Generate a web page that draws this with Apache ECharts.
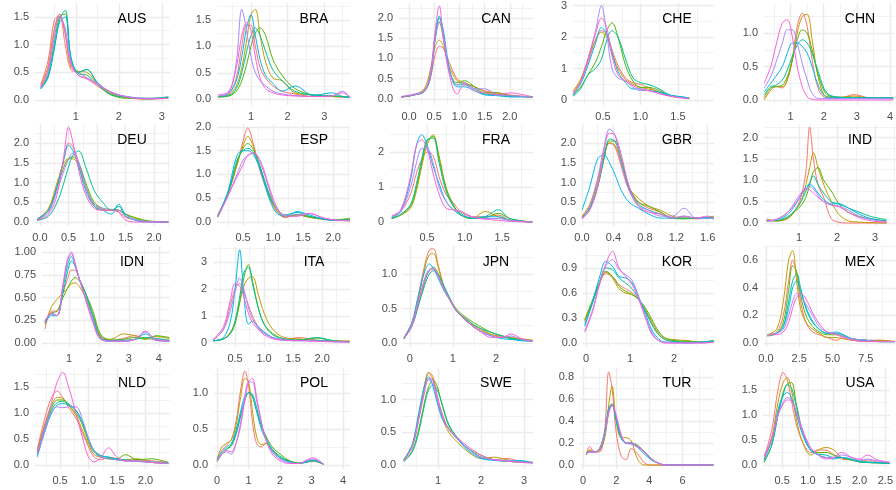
<!DOCTYPE html>
<html>
<head>
<meta charset="utf-8">
<script src="https://cdn.jsdelivr.net/npm/echarts@6.0.0/dist/echarts.min.js"></script>
<style>
  html, body { margin: 0; padding: 0; background: #fff; }
  #main { width: 896px; height: 490px; }
</style>
</head>
<body>
<div id="main"></div>
<script>
// one density curve per colour (year group), ggplot hue palette
const colors = ['#F8766D', '#C49A00', '#53B400', '#00C094', '#00B6EB', '#A58AFF', '#FB61D7'];

const countries = ['AUS', 'BRA', 'CAN', 'CHE', 'CHN', 'DEU', 'ESP', 'FRA', 'GBR', 'IND',
  'IDN', 'ITA', 'JPN', 'KOR', 'MEX', 'NLD', 'POL', 'SWE', 'TUR', 'USA'];

// curves: shared x grid per panel, one y row per colour
const ausX = [0.18, 0.35, 0.5, 0.62, 0.75, 0.88, 1.05, 1.25, 1.5, 1.8, 2.2, 2.7, 3.15];
const ausY = [
  [0.28, 0.7, 1.45, 1.5, 1.0, 0.55, 0.5, 0.4, 0.25, 0.12, 0.04, 0.02, 0.03],
  [0.25, 0.6, 1.3, 1.55, 1.2, 0.6, 0.52, 0.5, 0.3, 0.12, 0.04, 0.02, 0.04],
  [0.22, 0.45, 1.05, 1.5, 1.55, 0.75, 0.5, 0.55, 0.3, 0.1, 0.03, 0.03, 0.05],
  [0.2, 0.4, 0.95, 1.45, 1.62, 0.8, 0.48, 0.45, 0.28, 0.1, 0.05, 0.02, 0.06],
  [0.2, 0.42, 0.95, 1.4, 1.5, 0.75, 0.5, 0.55, 0.32, 0.14, 0.06, 0.03, 0.04],
  [0.22, 0.5, 1.15, 1.5, 1.3, 0.7, 0.45, 0.4, 0.3, 0.15, 0.06, 0.03, 0.03],
  [0.24, 0.55, 1.25, 1.55, 1.2, 0.65, 0.45, 0.38, 0.28, 0.15, 0.05, 0.02, 0.03]
];
const braX = [0.1, 0.4, 0.6, 0.75, 0.88, 1.0, 1.12, 1.25, 1.4, 1.6, 1.85, 2.2, 2.7, 3.2, 3.5, 3.7];
const braY = [
  [0.05, 0.1, 0.4, 1.0, 1.4, 1.4, 1.0, 0.6, 0.4, 0.25, 0.15, 0.1, 0.05, 0.05, 0.04, 0.03],
  [0.04, 0.08, 0.25, 0.6, 1.1, 1.6, 1.7, 1.2, 0.7, 0.4, 0.35, 0.12, 0.08, 0.05, 0.04, 0.03],
  [0.04, 0.06, 0.15, 0.35, 0.65, 1.0, 1.25, 1.35, 1.2, 0.75, 0.45, 0.2, 0.08, 0.06, 0.05, 0.04],
  [0.05, 0.07, 0.2, 0.5, 0.9, 1.2, 1.35, 1.2, 0.9, 0.55, 0.35, 0.15, 0.08, 0.07, 0.05, 0.04],
  [0.05, 0.12, 0.35, 0.8, 1.35, 1.6, 1.2, 0.75, 0.45, 0.3, 0.15, 0.25, 0.07, 0.12, 0.05, 0.03],
  [0.06, 0.12, 0.7, 1.7, 1.3, 0.8, 0.5, 0.35, 0.25, 0.15, 0.1, 0.07, 0.05, 0.06, 0.15, 0.03],
  [0.08, 0.15, 0.6, 1.2, 1.45, 1.3, 0.8, 0.4, 0.2, 0.12, 0.08, 0.06, 0.05, 0.06, 0.12, 0.03]
];
const canX = [-0.15, 0.1, 0.3, 0.42, 0.52, 0.6, 0.68, 0.8, 0.95, 1.1, 1.3, 1.5, 1.75, 2.0, 2.45];
const canY = [
  [0.04, 0.1, 0.2, 0.5, 1.1, 1.3, 1.25, 0.9, 0.5, 0.4, 0.3, 0.2, 0.15, 0.1, 0.05],
  [0.05, 0.1, 0.25, 0.7, 1.3, 1.45, 1.3, 0.8, 0.45, 0.38, 0.3, 0.18, 0.12, 0.08, 0.04],
  [0.05, 0.1, 0.2, 0.6, 1.5, 1.9, 1.5, 0.7, 0.4, 0.45, 0.3, 0.15, 0.15, 0.08, 0.05],
  [0.05, 0.1, 0.18, 0.55, 1.6, 2.0, 1.6, 0.7, 0.35, 0.35, 0.25, 0.12, 0.1, 0.06, 0.05],
  [0.05, 0.1, 0.18, 0.5, 1.5, 2.05, 1.7, 0.75, 0.3, 0.3, 0.2, 0.1, 0.08, 0.05, 0.06],
  [0.06, 0.12, 0.2, 0.55, 1.5, 1.9, 1.6, 0.7, 0.35, 0.4, 0.25, 0.25, 0.1, 0.08, 0.05],
  [0.06, 0.1, 0.2, 0.6, 1.7, 2.3, 1.5, 0.6, 0.12, 0.35, 0.2, 0.15, 0.1, 0.15, 0.05]
];
const cheX = [0.1, 0.2, 0.3, 0.4, 0.48, 0.55, 0.62, 0.7, 0.8, 0.9, 1.0, 1.1, 1.25, 1.4, 1.55, 1.65];
const cheY = [
  [0.25, 0.6, 1.2, 1.9, 2.2, 2.1, 1.6, 1.1, 0.7, 0.55, 0.5, 0.4, 0.25, 0.15, 0.08, 0.05],
  [0.28, 0.65, 1.3, 1.9, 2.15, 2.0, 1.5, 1.0, 0.65, 0.5, 0.4, 0.35, 0.25, 0.12, 0.08, 0.05],
  [0.15, 0.4, 0.8, 1.2, 1.7, 2.2, 2.45, 2.0, 1.1, 0.6, 0.4, 0.4, 0.3, 0.12, 0.08, 0.05],
  [0.12, 0.35, 0.8, 1.0, 1.3, 1.9, 2.2, 2.0, 1.3, 0.7, 0.55, 0.5, 0.35, 0.15, 0.1, 0.06],
  [0.15, 0.5, 1.1, 1.8, 2.3, 2.1, 1.5, 0.9, 0.55, 0.35, 0.35, 0.3, 0.25, 0.15, 0.1, 0.06],
  [0.2, 0.55, 1.3, 2.2, 3.0, 2.1, 1.0, 0.7, 0.6, 0.4, 0.3, 0.3, 0.2, 0.12, 0.08, 0.04],
  [0.2, 0.55, 1.3, 2.1, 2.6, 2.3, 1.4, 0.8, 0.6, 0.45, 0.35, 0.3, 0.2, 0.12, 0.06, 0.04]
];
const chnX = [0.2, 0.4, 0.55, 0.75, 0.9, 1.05, 1.2, 1.35, 1.5, 1.65, 1.85, 2.1, 2.5, 2.9, 3.4, 4.1];
const chnY = [
  [0.02, 0.15, 0.2, 0.18, 0.3, 0.6, 1.1, 1.3, 1.1, 0.6, 0.15, 0.03, 0.03, 0.08, 0.03, 0.02],
  [0.0, 0.15, 0.2, 0.2, 0.3, 0.6, 1.0, 1.25, 1.28, 0.9, 0.3, 0.05, 0.04, 0.06, 0.03, 0.03],
  [0.05, 0.18, 0.2, 0.22, 0.35, 0.6, 0.9, 1.05, 1.0, 0.75, 0.35, 0.08, 0.04, 0.04, 0.03, 0.03],
  [0.08, 0.2, 0.22, 0.3, 0.45, 0.65, 0.82, 0.9, 0.85, 0.7, 0.4, 0.1, 0.04, 0.03, 0.03, 0.03],
  [0.12, 0.25, 0.35, 0.5, 0.7, 0.85, 0.85, 0.8, 0.7, 0.5, 0.2, 0.04, 0.03, 0.03, 0.03, 0.03],
  [0.18, 0.35, 0.55, 0.85, 1.05, 1.05, 0.85, 0.55, 0.3, 0.1, 0.02, 0.02, 0.02, 0.02, 0.02, 0.02],
  [0.25, 0.5, 0.8, 1.15, 1.2, 0.95, 0.5, 0.2, 0.05, 0.01, 0.0, 0.0, 0.0, 0.0, 0.0, 0.0]
];
const deuX = [-0.05, 0.15, 0.3, 0.42, 0.5, 0.58, 0.68, 0.8, 0.95, 1.1, 1.25, 1.38, 1.5, 1.7, 1.9, 2.25];
const deuY = [
  [0.08, 0.3, 0.9, 1.6, 2.0, 1.9, 1.5, 0.9, 0.4, 0.3, 0.3, 0.25, 0.12, 0.05, 0.01, 0.0],
  [0.06, 0.35, 1.0, 1.5, 1.6, 1.6, 1.4, 0.9, 0.45, 0.32, 0.3, 0.3, 0.2, 0.08, 0.02, 0.0],
  [0.05, 0.3, 0.9, 1.4, 1.6, 1.65, 1.5, 1.0, 0.5, 0.35, 0.32, 0.3, 0.2, 0.1, 0.03, 0.0],
  [0.04, 0.15, 0.5, 1.0, 1.4, 1.7, 1.8, 1.4, 0.8, 0.5, 0.3, 0.4, 0.15, 0.05, 0.01, 0.0],
  [0.08, 0.3, 0.9, 1.6, 1.95, 1.8, 1.4, 0.8, 0.4, 0.3, 0.2, 0.45, 0.2, 0.03, 0.0, 0.0],
  [0.05, 0.25, 0.8, 1.3, 1.6, 1.75, 1.5, 0.9, 0.45, 0.35, 0.3, 0.3, 0.15, 0.05, 0.01, 0.0],
  [0.04, 0.2, 0.7, 1.7, 2.4, 2.0, 1.3, 0.7, 0.35, 0.3, 0.3, 0.25, 0.05, 0.0, 0.0, 0.0]
];
const espX = [0.08, 0.25, 0.4, 0.5, 0.58, 0.68, 0.8, 0.92, 1.05, 1.2, 1.4, 1.6, 1.85, 2.05, 2.28];
const espY = [
  [0.15, 0.6, 1.2, 1.7, 1.98, 1.6, 1.0, 0.6, 0.25, 0.1, 0.15, 0.1, 0.05, 0.03, 0.04],
  [0.14, 0.6, 1.2, 1.6, 1.8, 1.55, 1.05, 0.6, 0.25, 0.1, 0.15, 0.12, 0.06, 0.04, 0.05],
  [0.12, 0.6, 1.25, 1.55, 1.65, 1.5, 1.1, 0.6, 0.3, 0.12, 0.15, 0.1, 0.06, 0.05, 0.08],
  [0.12, 0.6, 1.3, 1.5, 1.55, 1.45, 1.1, 0.65, 0.3, 0.15, 0.2, 0.12, 0.06, 0.04, 0.05],
  [0.12, 0.65, 1.4, 1.5, 1.5, 1.4, 1.05, 0.55, 0.2, 0.12, 0.22, 0.15, 0.06, 0.03, 0.03],
  [0.1, 0.55, 1.0, 1.3, 1.4, 1.45, 1.2, 0.75, 0.3, 0.15, 0.15, 0.18, 0.08, 0.04, 0.03],
  [0.1, 0.55, 0.95, 1.2, 1.4, 1.45, 1.25, 0.8, 0.35, 0.12, 0.12, 0.18, 0.08, 0.04, 0.02]
];
const fraX = [0.03, 0.15, 0.28, 0.36, 0.43, 0.5, 0.58, 0.66, 0.75, 0.85, 0.95, 1.1, 1.27, 1.45, 1.6, 1.9];
const fraY = [
  [0.15, 0.3, 0.8, 1.4, 1.8, 2.0, 1.9, 1.3, 0.8, 0.55, 0.3, 0.15, 0.15, 0.2, 0.05, 0.0],
  [0.1, 0.2, 0.4, 0.9, 1.6, 2.2, 2.5, 1.9, 1.0, 0.45, 0.2, 0.1, 0.3, 0.15, 0.05, 0.0],
  [0.1, 0.2, 0.45, 1.0, 1.7, 2.3, 2.45, 1.8, 1.0, 0.5, 0.2, 0.1, 0.12, 0.25, 0.1, 0.0],
  [0.1, 0.22, 0.5, 1.1, 1.8, 2.35, 2.4, 1.7, 0.9, 0.45, 0.25, 0.1, 0.15, 0.35, 0.1, 0.0],
  [0.12, 0.3, 1.2, 2.2, 2.5, 2.2, 1.6, 1.1, 0.6, 0.35, 0.2, 0.12, 0.15, 0.15, 0.05, 0.0],
  [0.15, 0.3, 1.0, 1.7, 2.1, 2.1, 1.7, 1.0, 0.6, 0.35, 0.3, 0.15, 0.1, 0.1, 0.05, 0.0],
  [0.18, 0.35, 1.3, 2.2, 2.35, 2.1, 1.4, 0.8, 0.4, 0.35, 0.3, 0.15, 0.08, 0.05, 0.02, 0.0]
];
const gbrX = [0.0, 0.1, 0.2, 0.28, 0.35, 0.42, 0.5, 0.6, 0.72, 0.85, 1.0, 1.15, 1.3, 1.45, 1.6, 1.68];
const gbrY = [
  [0.12, 0.4, 1.0, 1.7, 2.0, 1.9, 1.4, 0.8, 0.5, 0.35, 0.25, 0.1, 0.1, 0.08, 0.1, 0.12],
  [0.15, 0.45, 1.1, 1.7, 2.0, 1.95, 1.5, 0.85, 0.6, 0.4, 0.3, 0.15, 0.1, 0.1, 0.12, 0.12],
  [0.12, 0.35, 0.9, 1.6, 2.05, 2.05, 1.6, 0.9, 0.5, 0.4, 0.25, 0.1, 0.08, 0.1, 0.12, 0.15],
  [0.1, 0.35, 0.9, 1.6, 2.1, 2.05, 1.55, 0.85, 0.45, 0.3, 0.2, 0.1, 0.1, 0.1, 0.12, 0.1],
  [0.3, 0.9, 1.6, 1.7, 1.5, 1.2, 0.8, 0.5, 0.35, 0.2, 0.1, 0.1, 0.15, 0.1, 0.1, 0.08],
  [0.1, 0.4, 1.1, 1.9, 2.35, 2.2, 1.5, 0.8, 0.4, 0.3, 0.15, 0.15, 0.35, 0.1, 0.1, 0.1],
  [0.08, 0.3, 0.9, 1.8, 2.25, 2.2, 1.7, 0.9, 0.4, 0.25, 0.2, 0.1, 0.15, 0.1, 0.15, 0.1]
];
const indX = [0.15, 0.4, 0.7, 0.9, 1.05, 1.18, 1.28, 1.38, 1.5, 1.65, 1.85, 2.05, 2.3, 2.6, 2.9, 3.3];
const indY = [
  [0.1, 0.05, 0.1, 0.3, 0.6, 1.2, 2.25, 1.5, 0.9, 0.6, 0.1, 0.02, 0.0, 0.0, 0.0, 0.0],
  [0.08, 0.05, 0.12, 0.3, 0.5, 0.9, 1.3, 1.65, 1.3, 0.9, 0.5, 0.2, 0.05, 0.02, 0.01, 0.0],
  [0.06, 0.05, 0.12, 0.28, 0.4, 0.6, 0.9, 1.2, 1.3, 1.0, 0.75, 0.45, 0.25, 0.15, 0.1, 0.05],
  [0.05, 0.06, 0.15, 0.3, 0.5, 0.75, 0.95, 1.1, 0.9, 0.7, 0.5, 0.45, 0.35, 0.25, 0.15, 0.08],
  [0.05, 0.08, 0.2, 0.42, 0.65, 0.85, 0.9, 0.85, 0.7, 0.55, 0.45, 0.45, 0.35, 0.2, 0.1, 0.04],
  [0.05, 0.08, 0.25, 0.45, 0.65, 0.8, 0.85, 0.8, 0.65, 0.5, 0.42, 0.4, 0.3, 0.15, 0.08, 0.03],
  [0.05, 0.08, 0.25, 0.5, 0.7, 0.8, 0.78, 0.7, 0.6, 0.5, 0.42, 0.38, 0.25, 0.12, 0.05, 0.02]
];
const idnX = [0.2, 0.42, 0.6, 0.8, 0.95, 1.08, 1.2, 1.35, 1.55, 1.8, 2.05, 2.4, 2.8, 3.2, 3.55, 3.9, 4.35];
const idnY = [
  [0.15, 0.35, 0.35, 0.55, 0.7, 0.8, 0.8, 0.7, 0.55, 0.3, 0.07, 0.03, 0.05, 0.08, 0.05, 0.04, 0.03],
  [0.2, 0.4, 0.48, 0.55, 0.6, 0.65, 0.66, 0.62, 0.5, 0.3, 0.08, 0.04, 0.1, 0.08, 0.05, 0.07, 0.05],
  [0.25, 0.33, 0.35, 0.5, 0.6, 0.68, 0.72, 0.68, 0.55, 0.35, 0.1, 0.03, 0.04, 0.06, 0.04, 0.08, 0.06],
  [0.22, 0.32, 0.3, 0.55, 0.78, 0.9, 0.85, 0.7, 0.55, 0.3, 0.06, 0.03, 0.03, 0.04, 0.06, 0.05, 0.03],
  [0.22, 0.3, 0.3, 0.6, 0.85, 0.95, 0.85, 0.7, 0.5, 0.25, 0.05, 0.02, 0.02, 0.04, 0.1, 0.03, 0.02],
  [0.23, 0.32, 0.3, 0.62, 0.9, 0.98, 0.88, 0.7, 0.5, 0.25, 0.05, 0.02, 0.02, 0.04, 0.12, 0.04, 0.02],
  [0.24, 0.33, 0.3, 0.65, 0.92, 1.0, 0.88, 0.7, 0.48, 0.22, 0.04, 0.02, 0.02, 0.04, 0.13, 0.03, 0.02]
];
const itaX = [0.12, 0.3, 0.42, 0.5, 0.58, 0.65, 0.73, 0.8, 0.9, 1.0, 1.15, 1.35, 1.6, 1.9, 2.2, 2.47];
const itaY = [
  [0.1, 0.5, 1.4, 2.0, 2.2, 1.9, 1.4, 1.0, 0.6, 0.4, 0.2, 0.12, 0.2, 0.1, 0.05, 0.05],
  [0.08, 0.15, 0.4, 0.8, 1.5, 2.1, 2.4, 2.45, 1.8, 1.1, 0.5, 0.2, 0.15, 0.1, 0.08, 0.08],
  [0.08, 0.15, 0.35, 0.7, 1.5, 2.4, 2.9, 2.3, 1.3, 0.7, 0.35, 0.15, 0.12, 0.18, 0.08, 0.05],
  [0.08, 0.15, 0.35, 0.8, 1.7, 2.6, 2.8, 2.2, 1.3, 0.7, 0.3, 0.15, 0.1, 0.2, 0.08, 0.05],
  [0.08, 0.2, 0.8, 2.0, 3.45, 1.8, 0.7, 0.8, 0.6, 0.4, 0.2, 0.1, 0.08, 0.1, 0.05, 0.04],
  [0.1, 0.5, 1.2, 1.9, 2.4, 2.0, 1.3, 0.9, 0.55, 0.35, 0.2, 0.12, 0.1, 0.08, 0.05, 0.04],
  [0.12, 0.6, 1.6, 2.2, 2.1, 1.7, 1.1, 0.75, 0.5, 0.3, 0.15, 0.1, 0.08, 0.06, 0.04, 0.03]
];
const jpnX = [-0.14, 0.05, 0.2, 0.35, 0.45, 0.55, 0.65, 0.8, 0.95, 1.1, 1.35, 1.6, 1.9, 2.15, 2.35, 2.6, 2.85];
const jpnY = [
  [0.08, 0.3, 0.7, 1.15, 1.35, 1.37, 1.15, 0.8, 0.6, 0.45, 0.33, 0.2, 0.12, 0.1, 0.08, 0.05, 0.03],
  [0.07, 0.28, 0.65, 1.1, 1.28, 1.3, 1.12, 0.8, 0.6, 0.45, 0.3, 0.22, 0.12, 0.08, 0.07, 0.06, 0.04],
  [0.06, 0.25, 0.55, 0.9, 1.05, 1.1, 1.02, 0.8, 0.62, 0.48, 0.35, 0.25, 0.15, 0.1, 0.07, 0.05, 0.03],
  [0.06, 0.25, 0.55, 0.85, 1.0, 1.05, 1.0, 0.82, 0.62, 0.46, 0.32, 0.22, 0.15, 0.1, 0.06, 0.04, 0.03],
  [0.07, 0.3, 0.7, 1.05, 1.15, 1.08, 0.95, 0.75, 0.6, 0.45, 0.3, 0.18, 0.1, 0.06, 0.05, 0.03, 0.02],
  [0.06, 0.27, 0.62, 0.95, 1.07, 1.08, 0.98, 0.78, 0.6, 0.45, 0.3, 0.18, 0.1, 0.08, 0.1, 0.05, 0.03],
  [0.06, 0.25, 0.6, 0.92, 1.05, 1.07, 0.98, 0.78, 0.6, 0.45, 0.3, 0.18, 0.08, 0.08, 0.13, 0.06, 0.02]
];
const korX = [-0.03, 0.15, 0.3, 0.45, 0.6, 0.75, 0.9, 1.05, 1.2, 1.35, 1.5, 1.65, 1.8, 2.0, 2.3, 2.6, 2.9];
const korY = [
  [0.25, 0.5, 0.72, 0.83, 0.8, 0.7, 0.65, 0.6, 0.52, 0.38, 0.22, 0.1, 0.04, 0.02, 0.01, 0.01, 0.02],
  [0.27, 0.5, 0.7, 0.85, 0.78, 0.65, 0.6, 0.58, 0.52, 0.4, 0.25, 0.12, 0.06, 0.04, 0.03, 0.01, 0.02],
  [0.28, 0.52, 0.72, 0.86, 0.8, 0.68, 0.62, 0.58, 0.52, 0.42, 0.28, 0.14, 0.06, 0.03, 0.02, 0.01, 0.03],
  [0.22, 0.48, 0.72, 0.9, 0.88, 0.78, 0.72, 0.65, 0.52, 0.38, 0.22, 0.1, 0.04, 0.02, 0.01, 0.01, 0.03],
  [0.2, 0.5, 0.78, 0.98, 0.92, 0.8, 0.78, 0.72, 0.55, 0.35, 0.15, 0.05, 0.01, 0.01, 0.0, 0.01, 0.02],
  [0.15, 0.4, 0.7, 0.92, 1.0, 0.88, 0.82, 0.75, 0.55, 0.32, 0.12, 0.03, 0.01, 0.0, 0.0, 0.0, 0.01],
  [0.13, 0.38, 0.7, 0.95, 1.1, 0.9, 0.8, 0.7, 0.52, 0.3, 0.1, 0.03, 0.0, 0.0, 0.0, 0.0, 0.01]
];
const mexX = [0.1, 0.8, 1.3, 1.7, 2.0, 2.3, 2.6, 3.0, 3.5, 4.0, 4.6, 5.3, 5.8, 6.5, 7.5, 8.5, 9.7];
const mexY = [
  [0.06, 0.08, 0.2, 0.45, 0.6, 0.5, 0.3, 0.15, 0.08, 0.06, 0.04, 0.02, 0.04, 0.02, 0.02, 0.02, 0.01],
  [0.06, 0.1, 0.3, 0.6, 0.67, 0.45, 0.25, 0.15, 0.1, 0.07, 0.04, 0.04, 0.03, 0.02, 0.01, 0.02, 0.01],
  [0.05, 0.07, 0.15, 0.38, 0.56, 0.52, 0.35, 0.2, 0.12, 0.08, 0.06, 0.06, 0.05, 0.03, 0.02, 0.01, 0.01],
  [0.06, 0.07, 0.12, 0.3, 0.45, 0.5, 0.4, 0.25, 0.15, 0.1, 0.07, 0.07, 0.06, 0.03, 0.02, 0.01, 0.01],
  [0.06, 0.07, 0.12, 0.25, 0.4, 0.45, 0.38, 0.26, 0.16, 0.1, 0.07, 0.08, 0.06, 0.03, 0.02, 0.01, 0.01],
  [0.06, 0.07, 0.1, 0.2, 0.3, 0.36, 0.34, 0.28, 0.2, 0.12, 0.08, 0.07, 0.05, 0.03, 0.02, 0.01, 0.01],
  [0.06, 0.06, 0.08, 0.15, 0.25, 0.33, 0.36, 0.32, 0.22, 0.14, 0.08, 0.06, 0.04, 0.02, 0.01, 0.01, 0.01]
];
const nldX = [0.1, 0.22, 0.35, 0.45, 0.55, 0.65, 0.78, 0.9, 1.0, 1.1, 1.22, 1.35, 1.5, 1.65, 1.85, 2.1, 2.4];
const nldY = [
  [0.3, 0.85, 1.3, 1.42, 1.3, 1.1, 0.9, 0.6, 0.35, 0.15, 0.1, 0.15, 0.12, 0.08, 0.1, 0.08, 0.05],
  [0.28, 0.75, 1.15, 1.3, 1.28, 1.15, 0.95, 0.65, 0.4, 0.2, 0.15, 0.12, 0.1, 0.1, 0.12, 0.05, 0.03],
  [0.25, 0.7, 1.1, 1.25, 1.25, 1.15, 1.0, 0.75, 0.45, 0.25, 0.15, 0.12, 0.12, 0.2, 0.1, 0.12, 0.05],
  [0.2, 0.65, 1.05, 1.2, 1.22, 1.18, 1.05, 0.8, 0.5, 0.28, 0.18, 0.15, 0.12, 0.1, 0.08, 0.06, 0.04],
  [0.15, 0.6, 1.0, 1.15, 1.18, 1.15, 1.05, 0.8, 0.5, 0.25, 0.18, 0.15, 0.1, 0.08, 0.07, 0.05, 0.03],
  [0.2, 0.6, 1.0, 1.12, 1.1, 1.12, 1.12, 0.85, 0.5, 0.25, 0.15, 0.12, 0.1, 0.08, 0.07, 0.05, 0.03],
  [0.25, 0.7, 1.2, 1.6, 1.78, 1.5, 1.0, 0.5, 0.15, 0.06, 0.15, 0.33, 0.15, 0.08, 0.08, 0.05, 0.03]
];
const polX = [0.0, 0.15, 0.3, 0.45, 0.6, 0.75, 0.88, 1.0, 1.12, 1.25, 1.4, 1.55, 1.75, 2.0, 2.3, 2.6, 2.85, 3.05, 3.38];
const polY = [
  [0.1, 0.2, 0.28, 0.35, 0.6, 1.05, 1.3, 1.1, 0.6, 0.3, 0.25, 0.3, 0.2, 0.1, 0.05, 0.02, 0.05, 0.06, 0.01],
  [0.08, 0.25, 0.3, 0.35, 0.55, 0.95, 1.2, 1.15, 0.75, 0.4, 0.28, 0.3, 0.2, 0.1, 0.05, 0.02, 0.04, 0.05, 0.01],
  [0.05, 0.15, 0.22, 0.28, 0.45, 0.7, 0.9, 1.0, 0.95, 0.75, 0.55, 0.4, 0.25, 0.15, 0.06, 0.03, 0.04, 0.06, 0.01],
  [0.05, 0.15, 0.22, 0.26, 0.42, 0.68, 0.9, 1.0, 0.98, 0.8, 0.55, 0.38, 0.22, 0.12, 0.05, 0.02, 0.05, 0.07, 0.01],
  [0.08, 0.18, 0.25, 0.3, 0.48, 0.75, 0.95, 1.0, 0.95, 0.75, 0.5, 0.35, 0.2, 0.1, 0.04, 0.02, 0.04, 0.06, 0.01],
  [0.06, 0.15, 0.18, 0.15, 0.3, 0.6, 0.95, 1.15, 1.15, 0.9, 0.6, 0.35, 0.18, 0.08, 0.03, 0.02, 0.06, 0.08, 0.01],
  [0.05, 0.15, 0.2, 0.18, 0.3, 0.55, 0.9, 1.15, 1.2, 0.95, 0.6, 0.35, 0.15, 0.06, 0.02, 0.02, 0.07, 0.1, 0.01]
];
const sweX = [0.2, 0.4, 0.55, 0.68, 0.78, 0.88, 0.98, 1.1, 1.25, 1.45, 1.7, 2.0, 2.3, 2.6, 2.9, 3.2];
const sweY = [
  [0.08, 0.3, 0.75, 1.2, 1.4, 1.3, 1.0, 0.75, 0.55, 0.4, 0.25, 0.12, 0.08, 0.1, 0.06, 0.04],
  [0.08, 0.3, 0.75, 1.2, 1.42, 1.35, 1.05, 0.72, 0.5, 0.35, 0.2, 0.1, 0.12, 0.08, 0.05, 0.04],
  [0.06, 0.22, 0.55, 0.95, 1.2, 1.3, 1.2, 0.9, 0.6, 0.4, 0.25, 0.15, 0.08, 0.06, 0.04, 0.04],
  [0.05, 0.2, 0.5, 0.9, 1.15, 1.22, 1.15, 0.92, 0.62, 0.42, 0.25, 0.12, 0.08, 0.06, 0.05, 0.04],
  [0.08, 0.32, 0.8, 1.2, 1.35, 1.2, 0.95, 0.7, 0.55, 0.4, 0.22, 0.1, 0.07, 0.06, 0.07, 0.03],
  [0.07, 0.28, 0.7, 1.12, 1.3, 1.25, 1.0, 0.75, 0.55, 0.4, 0.25, 0.12, 0.08, 0.07, 0.05, 0.03],
  [0.07, 0.28, 0.7, 1.1, 1.32, 1.3, 1.05, 0.78, 0.55, 0.42, 0.28, 0.15, 0.08, 0.06, 0.04, 0.03]
];
const turX = [0.2, 0.4, 0.7, 1.0, 1.3, 1.55, 1.75, 2.0, 2.3, 2.6, 2.9, 3.3, 3.7, 4.1, 4.5, 5.0, 6.0, 7.85];
const turY = [
  [0.1, 0.17, 0.12, 0.12, 0.3, 0.85, 0.7, 0.3, 0.08, 0.05, 0.15, 0.1, 0.02, 0.0, 0.0, 0.0, 0.0, 0.0],
  [0.1, 0.14, 0.12, 0.13, 0.25, 0.55, 0.72, 0.4, 0.25, 0.25, 0.22, 0.05, 0.0, 0.0, 0.0, 0.0, 0.0, 0.0],
  [0.1, 0.13, 0.12, 0.14, 0.25, 0.48, 0.55, 0.42, 0.25, 0.2, 0.2, 0.18, 0.12, 0.05, 0.02, 0.0, 0.0, 0.0],
  [0.1, 0.12, 0.12, 0.15, 0.3, 0.52, 0.56, 0.4, 0.25, 0.2, 0.2, 0.17, 0.12, 0.06, 0.02, 0.0, 0.0, 0.0],
  [0.1, 0.12, 0.12, 0.15, 0.3, 0.5, 0.55, 0.42, 0.25, 0.2, 0.2, 0.16, 0.1, 0.05, 0.02, 0.0, 0.0, 0.0],
  [0.1, 0.12, 0.12, 0.14, 0.28, 0.48, 0.54, 0.45, 0.27, 0.2, 0.19, 0.16, 0.12, 0.06, 0.02, 0.0, 0.0, 0.0],
  [0.1, 0.12, 0.12, 0.14, 0.28, 0.48, 0.55, 0.45, 0.28, 0.2, 0.2, 0.17, 0.12, 0.06, 0.02, 0.0, 0.0, 0.0]
];
const usaX = [0.15, 0.3, 0.42, 0.52, 0.6, 0.68, 0.78, 0.9, 1.05, 1.2, 1.35, 1.5, 1.65, 1.85, 2.0, 2.15, 2.35, 2.58];
const usaY = [
  [0.15, 0.7, 1.5, 1.85, 1.7, 1.3, 0.8, 0.45, 0.25, 0.3, 0.3, 0.2, 0.12, 0.1, 0.08, 0.1, 0.06, 0.05],
  [0.1, 0.55, 1.25, 1.65, 1.75, 1.5, 0.9, 0.45, 0.2, 0.3, 0.35, 0.3, 0.15, 0.1, 0.07, 0.06, 0.05, 0.04],
  [0.05, 0.4, 1.0, 1.45, 1.62, 1.65, 1.2, 0.65, 0.3, 0.25, 0.25, 0.2, 0.15, 0.1, 0.06, 0.05, 0.04, 0.03],
  [0.06, 0.4, 1.0, 1.4, 1.6, 1.55, 1.15, 0.65, 0.3, 0.22, 0.2, 0.15, 0.15, 0.1, 0.06, 0.05, 0.04, 0.03],
  [0.1, 0.5, 1.1, 1.38, 1.45, 1.35, 1.0, 0.6, 0.3, 0.2, 0.15, 0.12, 0.15, 0.12, 0.08, 0.06, 0.05, 0.04],
  [0.12, 0.5, 1.0, 1.25, 1.35, 1.3, 1.05, 0.65, 0.35, 0.2, 0.15, 0.15, 0.2, 0.15, 0.1, 0.12, 0.08, 0.05],
  [0.18, 0.55, 1.0, 1.22, 1.3, 1.28, 1.05, 0.7, 0.35, 0.2, 0.12, 0.15, 0.25, 0.15, 0.12, 0.2, 0.1, 0.06]
];

const curveX = [ausX, braX, canX, cheX, chnX, deuX, espX, fraX, gbrX, indX,
  idnX, itaX, jpnX, korX, mexX, nldX, polX, sweX, turX, usaX];
const curveY = [ausY, braY, canY, cheY, chnY, deuY, espY, fraY, gbrY, indY,
  idnY, itaY, jpnY, korY, mexY, nldY, polY, sweY, turY, usaY];

// axis ranges and tick labels per panel (free scales)
const xLims = [[0.047, 3.19], [0.074, 3.7], [-0.2, 2.46], [0.1, 1.98], [0.196, 4.125],
  [-0.088, 2.28], [0.067, 2.28], [0.007, 1.91], [0, 1.68], [0.08, 3.55],
  [0.1, 4.37], [0.12, 2.48], [-0.16, 2.86], [-0.07, 2.91], [-0.15, 9.77],
  [0.06, 2.43], [-0.1, 4.22], [0.16, 3.21], [-0.18, 7.89], [0.13, 2.59]];
const yLims = [[-0.09, 1.75], [-0.11, 1.82], [-0.15, 2.37], [-0.16, 3.08], [-0.075, 1.45],
  [-0.1, 2.47], [-0.084, 2.05], [-0.114, 2.79], [-0.1, 2.47], [-0.07, 2.31],
  [-0.044, 1.066], [-0.15, 3.59], [-0.06, 1.41], [-0.048, 1.164], [-0.029, 0.703],
  [-0.077, 1.875], [-0.056, 1.35], [-0.061, 1.49], [-0.036, 0.89], [-0.08, 1.95]];
const xBreaks = [
  ['1', '2', '3'], ['1', '2', '3'], ['0.0', '0.5', '1.0', '1.5', '2.0'], ['0.5', '1.0', '1.5'], ['1', '2', '3', '4'],
  ['0.0', '0.5', '1.0', '1.5', '2.0'], ['0.5', '1.0', '1.5', '2.0'], ['0.5', '1.0', '1.5'], ['0.0', '0.4', '0.8', '1.2', '1.6'], ['1', '2', '3'],
  ['1', '2', '3', '4'], ['0.5', '1.0', '1.5', '2.0'], ['0', '1', '2'], ['0', '1', '2'], ['0.0', '2.5', '5.0', '7.5'],
  ['0.5', '1.0', '1.5', '2.0'], ['0', '1', '2', '3', '4'], ['1', '2', '3'], ['0', '2', '4', '6'], ['0.5', '1.0', '1.5', '2.0', '2.5']];
const yBreaks = [
  ['0.0', '0.5', '1.0', '1.5'], ['0.0', '0.5', '1.0', '1.5'], ['0.0', '0.5', '1.0', '1.5', '2.0'], ['0', '1', '2', '3'], ['0.0', '0.5', '1.0'],
  ['0.0', '0.5', '1.0', '1.5', '2.0'], ['0.0', '0.5', '1.0', '1.5', '2.0'], ['0', '1', '2'], ['0.0', '0.5', '1.0', '1.5', '2.0'], ['0.0', '0.5', '1.0', '1.5', '2.0'],
  ['0.00', '0.25', '0.50', '0.75', '1.00'], ['0', '1', '2', '3'], ['0.0', '0.5', '1.0'], ['0.0', '0.3', '0.6', '0.9'], ['0.0', '0.2', '0.4', '0.6'],
  ['0.0', '0.5', '1.0', '1.5'], ['0.0', '0.5', '1.0'], ['0.0', '0.5', '1.0', '1.5'], ['0.0', '0.2', '0.4', '0.6', '0.8'], ['0.0', '0.5', '1.0', '1.5']];

// layout (pixels)
const panelLeft = [35, 217, 399, 573, 764, 35, 217, 390, 582, 764,
  42, 213, 403, 583, 764, 35, 214, 402, 580, 763];
const colRight = [170, 350, 533, 714, 896];
const rowTop = [3, 124.5, 246, 367.5];
const rowBottom = [105, 226, 347, 469];
const tagX = [132, 314, 496, 677, 860];
const tagY = [19, 140, 262, 383];

const FONT = '"Liberation Sans", Arial, Helvetica, sans-serif';

function minorsOf(labels, lim) {
  const v = labels.map(parseFloat);
  const d = v[1] - v[0];
  const out = [];
  for (let i = -1; i < v.length; i++) {
    const m = v[0] + (i + 0.5) * d;
    if (m > lim[0] && m < lim[1]) out.push(m);
  }
  return out;
}

function labelFor(labels) {
  return value => {
    const hit = labels.find(l => Math.abs(parseFloat(l) - value) < 1e-9);
    return hit === undefined ? '' : hit;
  };
}

const grid = [], xAxis = [], yAxis = [], series = [], graphic = [];

countries.forEach((name, i) => {
  const col = i % 5, row = Math.floor(i / 5);
  grid.push({
    left: panelLeft[i], top: rowTop[row],
    width: colRight[col] - panelLeft[i], height: rowBottom[row] - rowTop[row]
  });

  const xMajor = xBreaks[i].map(parseFloat);
  const yMajor = yBreaks[i].map(parseFloat);

  xAxis.push({
    type: 'value', gridIndex: i, position: 'bottom', min: xLims[i][0], max: xLims[i][1],
    axisLine: { show: false }, axisTick: { show: false, customValues: xMajor },
    axisLabel: { customValues: xMajor, formatter: labelFor(xBreaks[i]), color: '#4D4D4D', fontSize: 11, fontFamily: FONT, margin: 6 },
    splitLine: { show: true, lineStyle: { color: '#EBEBEB', width: 1.4 } }
  });
  xAxis.push({
    type: 'value', gridIndex: i, position: 'top', min: xLims[i][0], max: xLims[i][1],
    axisLine: { show: false }, axisTick: { show: false, customValues: minorsOf(xBreaks[i], xLims[i]) },
    axisLabel: { show: false },
    splitLine: { show: true, lineStyle: { color: '#EFEFEF', width: 0.8 } }
  });
  yAxis.push({
    type: 'value', gridIndex: i, position: 'left', min: yLims[i][0], max: yLims[i][1],
    axisLine: { show: false }, axisTick: { show: false, customValues: yMajor },
    axisLabel: { customValues: yMajor, formatter: labelFor(yBreaks[i]), color: '#4D4D4D', fontSize: 11, fontFamily: FONT, margin: 6 },
    splitLine: { show: true, lineStyle: { color: '#EBEBEB', width: 1.4 } }
  });
  yAxis.push({
    type: 'value', gridIndex: i, position: 'right', min: yLims[i][0], max: yLims[i][1],
    axisLine: { show: false }, axisTick: { show: false, customValues: minorsOf(yBreaks[i], yLims[i]) },
    axisLabel: { show: false },
    splitLine: { show: true, lineStyle: { color: '#EFEFEF', width: 0.8 } }
  });

  curveY[i].forEach((ys, k) => {
    series.push({
      type: 'line', xAxisIndex: 2 * i, yAxisIndex: 2 * i,
      data: curveX[i].map((x, j) => [x, ys[j]]),
      smooth: 0.35, symbol: 'none', clip: true,
      lineStyle: { color: colors[k], width: 1 },
      emphasis: { disabled: true }
    });
  });

  // country tag drawn above grid lines and curves
  graphic.push({
    type: 'text', x: tagX[col], y: tagY[row], silent: true, z: 100,
    style: { text: name, fill: '#000', font: '14px ' + FONT, textAlign: 'center', textVerticalAlign: 'middle' }
  });
});

const chart = echarts.init(document.getElementById('main'), null, { renderer: 'canvas' });
chart.setOption({
  animation: false,
  backgroundColor: '#fff',
  grid, xAxis, yAxis, series, graphic
});
</script>
</body>
</html>
